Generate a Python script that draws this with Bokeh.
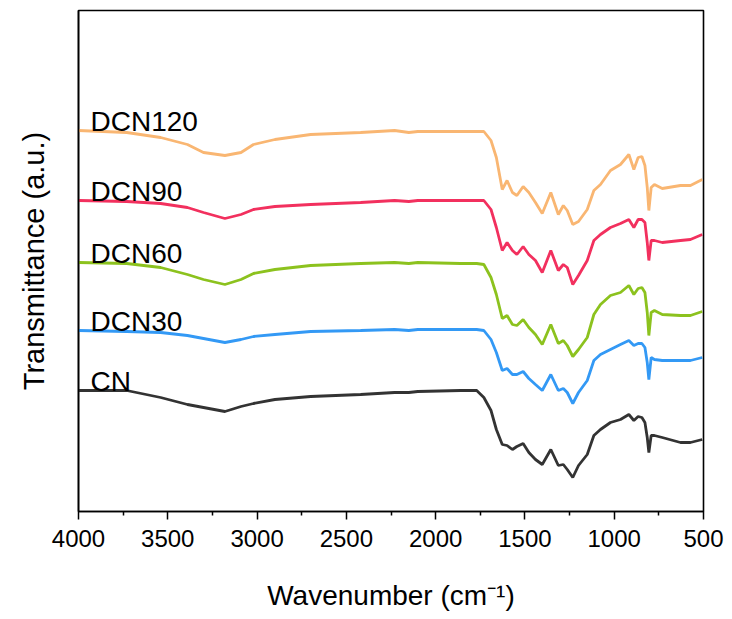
from bokeh.plotting import figure
from bokeh.models import Range1d, FixedTicker, ColumnDataSource
from bokeh.core.properties import value
from bokeh.embed import file_html
from bokeh.resources import INLINE

# Wavenumber grid (cm^-1)
wavenumber = [4000, 3730, 3540, 3390, 3300, 3180, 3090, 3020, 2900, 2700,
              2420, 2230, 2150, 2100, 1860, 1770, 1730, 1690, 1660, 1627,
              1600, 1570, 1545, 1510, 1478, 1441, 1403, 1355, 1313, 1285,
              1263, 1232, 1200, 1151, 1114, 1077, 1021, 965, 918, 890,
              866, 845, 828, 815, 806, 793, 775, 731, 629, 573, 507]

# Offset transmittance (a.u.)
cn = [121, 121, 114, 107, 104, 100, 105, 108, 112, 115,
      117, 119, 119, 120, 121, 121, 114, 101, 82, 67,
      66, 62, 65, 68, 59, 52, 47, 62, 46, 47,
      42, 34, 46, 57, 76, 82, 89, 92, 97, 91,
      95, 94, 89, 74, 59, 76, 76, 74, 69, 69, 72]
dcn30 = [181, 180, 179, 176, 173, 169, 172, 175, 177, 180,
         181, 182, 181, 182, 182, 182, 181, 172, 159, 141,
         143, 137, 137, 140, 133, 127, 121, 137, 121, 123,
         119, 108, 119, 131, 151, 157, 162, 167, 171, 166,
         168, 168, 164, 149, 132, 154, 152, 151, 151, 151, 154]
dcn60 = [249, 248, 244, 237, 232, 227, 232, 238, 242, 246,
         248, 249, 248, 249, 248, 248, 247, 234, 217, 193,
         196, 187, 186, 192, 184, 177, 167, 187, 168, 171,
         166, 155, 162, 174, 197, 207, 216, 219, 226, 217,
         223, 224, 219, 199, 176, 199, 201, 197, 196, 196, 200]
dcn90 = [311, 310, 308, 304, 299, 293, 297, 302, 305, 307,
         309, 311, 310, 311, 311, 311, 311, 302, 284, 261,
         269, 261, 257, 265, 257, 251, 239, 261, 241, 247,
         244, 227, 236, 251, 271, 277, 284, 288, 292, 284,
         292, 292, 289, 269, 251, 271, 271, 269, 271, 272, 277]
dcn120 = [381, 379, 374, 367, 359, 356, 359, 367, 372, 377,
          379, 381, 379, 380, 380, 380, 380, 371, 354, 322,
          331, 319, 316, 325, 319, 309, 298, 319, 297, 306,
          301, 287, 290, 302, 321, 327, 341, 347, 357, 342,
          354, 355, 346, 324, 301, 324, 327, 323, 326, 326, 332]

names = ["CN", "DCN30", "DCN60", "DCN90", "DCN120"]
series = [cn, dcn30, dcn60, dcn90, dcn120]
colors = ["#333333", "#3399F5", "#8CC21E", "#F2305E", "#F9B672"]

x_ticks = [4000, 3500, 3000, 2500, 2000, 1500, 1000, 500]

FONT = "Liberation Sans"

p = figure(frame_width=625, frame_height=501,
           x_range=Range1d(4000, 500), y_range=Range1d(0, 501),
           output_backend="svg", toolbar_location=None,
           min_border_left=78, min_border_right=21,
           min_border_top=10, min_border_bottom=98)

p.xgrid.visible = False
p.ygrid.visible = False
p.outline_line_color = "black"
p.outline_line_width = 1.6
p.outline_line_alpha = 1.0

for name, ys, c in zip(names, series, colors):
    src = ColumnDataSource(dict(x=wavenumber, y=ys))
    p.line("x", "y", source=src, line_color=c, line_width=2.8)
    p.text(x=[3933], y=[ys[0] + 9], text=[name],
           text_font=value(FONT), text_font_size="28px",
           text_color="black", text_baseline="alphabetic", text_align="left")

# x axis
xa = p.xaxis[0]
xa.ticker = FixedTicker(ticks=x_ticks, minor_ticks=[3750, 3250, 2750, 2250, 1750, 1250, 750])
xa.axis_line_width = 1.6
xa.major_tick_out = 8
xa.major_tick_in = 0
xa.minor_tick_out = 4
xa.minor_tick_in = 0
xa.major_tick_line_width = 1.5
xa.minor_tick_line_width = 1.5
xa.major_label_text_font = FONT
xa.major_label_text_font_size = "24px"
xa.major_label_text_color = "black"
xa.major_label_standoff = 10
xa.axis_label = "Wavenumber (cm\u207b\u00b9)"
xa.axis_label_text_font = FONT
xa.axis_label_text_font_size = "28px"
xa.axis_label_text_font_style = "normal"
xa.axis_label_text_color = "black"
xa.axis_label_standoff = 30

# y axis
ya = p.yaxis[0]
ya.ticker = FixedTicker(ticks=[])
ya.major_label_text_font_size = "0px"
ya.major_tick_out = 0
ya.minor_tick_out = 0
ya.axis_line_width = 1.6
ya.axis_label = "Transmittance (a.u.)"
ya.axis_label_text_font = FONT
ya.axis_label_text_font_size = "29px"
ya.axis_label_text_font_style = "normal"
ya.axis_label_text_color = "black"
ya.axis_label_standoff = 29

open("out.html", "w").write(file_html(p, INLINE))
